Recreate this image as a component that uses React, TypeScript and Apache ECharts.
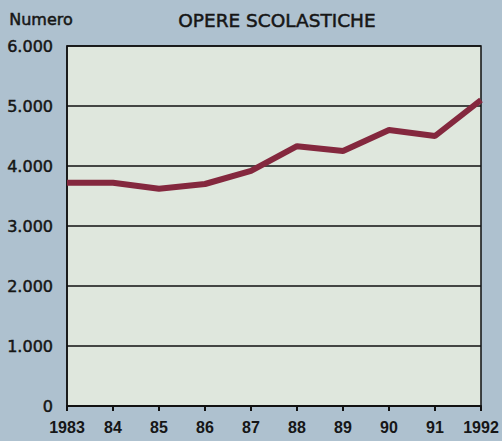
import React, { useEffect, useRef } from "react";
import * as echarts from "echarts";

const years = ["1983", "84", "85", "86", "87", "88", "89", "90", "91", "1992"];
const values = [3720, 3720, 3620, 3700, 3920, 4330, 4250, 4600, 4500, 5100];
const yTicks = [0, 1000, 2000, 3000, 4000, 5000, 6000];

const fmt = (v: number) => (v === 0 ? "0" : String(v).replace(/\B(?=(\d{3})+(?!\d))/g, "."));

export default function App() {
  const ref = useRef<HTMLDivElement>(null);
  useEffect(() => {
    if (!ref.current) return;
    const chart = echarts.init(ref.current, undefined, { renderer: "svg" });
    const font = "'DejaVu Sans', 'Liberation Sans', Arial, sans-serif";
    const xfont = "'Liberation Sans', Arial, sans-serif";
    const ink = "#161616";
    chart.setOption({
      animation: false,
      backgroundColor: "#aec1cf",
      title: {
        text: "OPERE SCOLASTICHE",
        left: 272,
        textAlign: "center",
        top: 6,
        textStyle: {
          fontFamily: font,
          fontSize: 18.5,
          fontWeight: "normal",
          color: ink,
          textBorderColor: ink,
          textBorderWidth: 0.5,
        },
      },
      graphic: [
        {
          type: "text",
          left: 9,
          top: 11,
          style: {
            text: "Numero",
            fontFamily: font,
            fontSize: 16,
            fill: ink,
            stroke: ink,
            lineWidth: 0.5,
          },
        },
      ],
      grid: {
        left: 67,
        right: 21,
        top: 46,
        bottom: 35,
        show: true,
        backgroundColor: "#dfe7dd",
        borderColor: "#111",
        borderWidth: 1.5,
      },
      xAxis: {
        type: "category",
        data: years,
        boundaryGap: false,
        axisLine: { lineStyle: { color: "#111", width: 2 } },
        axisTick: { show: true, length: 5, lineStyle: { color: "#111", width: 2 } },
        axisLabel: { fontFamily: xfont, fontSize: 16, fontWeight: "bold", color: ink, margin: 13, interval: 0 },
        splitLine: { show: false },
      },
      yAxis: {
        type: "value",
        min: 0,
        max: 6000,
        interval: 1000,
        axisLine: { show: true, lineStyle: { color: "#111", width: 1.5 } },
        axisTick: { show: false },
        axisLabel: {
          fontFamily: font,
          fontSize: 16,
          color: ink,
          textBorderColor: ink,
          textBorderWidth: 0.5,
          margin: 14,
          formatter: (v: number) => (yTicks.includes(v) ? fmt(v) : ""),
        },
        splitLine: { show: true, lineStyle: { color: "#111", width: 1.5 } },
      },
      series: [
        {
          type: "line",
          data: values,
          symbol: "none",
          lineStyle: { color: "#84283e", width: 6 },
        },
      ],
    });
    return () => chart.dispose();
  }, []);
  return <div ref={ref} style={{ width: 502, height: 441, position: "absolute", left: 0, top: 0 }} />;
}
